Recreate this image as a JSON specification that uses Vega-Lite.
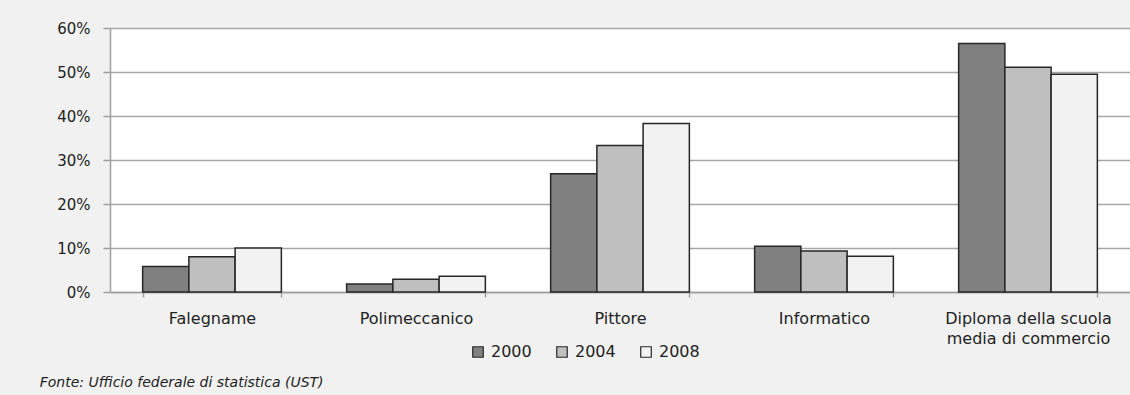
{
  "$schema": "https://vega.github.io/schema/vega-lite/v6.json",
  "width": 1020,
  "height": 264,
  "autosize": {"type": "none"},
  "padding": {"left": 110, "top": 28, "right": 0, "bottom": 103},
  "background": "#f1f1f1",
  "view": {"fill": "white", "stroke": null},
  "config": {"font": "DejaVu Sans"},
  "title": {
    "text": "Fonte: Ufficio federale di statistica (UST)",
    "orient": "bottom",
    "anchor": "start",
    "fontSize": 14,
    "fontStyle": "italic",
    "fontWeight": "normal",
    "color": "#222222",
    "dx": -17,
    "offset": 16
  },
  "data": {
    "values": [
      {"professione": "Falegname", "anno": "2000", "quota": 0.058},
      {"professione": "Falegname", "anno": "2004", "quota": 0.08},
      {"professione": "Falegname", "anno": "2008", "quota": 0.10},
      {"professione": "Polimeccanico", "anno": "2000", "quota": 0.018},
      {"professione": "Polimeccanico", "anno": "2004", "quota": 0.029},
      {"professione": "Polimeccanico", "anno": "2008", "quota": 0.036},
      {"professione": "Pittore", "anno": "2000", "quota": 0.269},
      {"professione": "Pittore", "anno": "2004", "quota": 0.333},
      {"professione": "Pittore", "anno": "2008", "quota": 0.383},
      {"professione": "Informatico", "anno": "2000", "quota": 0.104},
      {"professione": "Informatico", "anno": "2004", "quota": 0.093},
      {"professione": "Informatico", "anno": "2008", "quota": 0.081},
      {"professione": "Diploma della scuola media di commercio", "anno": "2000", "quota": 0.565},
      {"professione": "Diploma della scuola media di commercio", "anno": "2004", "quota": 0.511},
      {"professione": "Diploma della scuola media di commercio", "anno": "2008", "quota": 0.495}
    ]
  },
  "mark": {"type": "bar", "stroke": "#262626", "strokeWidth": 1.5},
  "encoding": {
    "x": {
      "field": "professione",
      "type": "nominal",
      "sort": ["Falegname", "Polimeccanico", "Pittore", "Informatico", "Diploma della scuola media di commercio"],
      "scale": {"paddingInner": 0.32, "paddingOuter": 0.16},
      "axis": {
        "title": null,
        "labelAngle": 0,
        "tickBand": "extent",
        "tickSize": 5,
        "tickColor": "#a0a0a0",
        "tickWidth": 1.5,
        "domainColor": "#a0a0a0",
        "domainWidth": 1.5,
        "labelFontSize": 16,
        "labelPadding": 13,
        "labelLineHeight": 20,
        "labelColor": "#222222",
        "labelExpr": "datum.value == 'Diploma della scuola media di commercio' ? ['Diploma della scuola', 'media di commercio'] : datum.value",
        "grid": false
      }
    },
    "xOffset": {
      "field": "anno",
      "type": "nominal",
      "scale": {"paddingInner": 0, "paddingOuter": 0}
    },
    "y": {
      "field": "quota",
      "type": "quantitative",
      "scale": {"domain": [0, 0.6]},
      "axis": {
        "title": null,
        "values": [0, 0.1, 0.2, 0.3, 0.4, 0.5, 0.6],
        "format": ".0%",
        "tickSize": 7,
        "tickColor": "#a0a0a0",
        "tickWidth": 1.5,
        "domainColor": "#a0a0a0",
        "domainWidth": 1.5,
        "gridColor": "#a6a6a6",
        "gridWidth": 1.5,
        "labelFontSize": 15,
        "labelPadding": 13,
        "labelColor": "#222222"
      }
    },
    "color": {
      "field": "anno",
      "type": "nominal",
      "scale": {"domain": ["2000", "2004", "2008"], "range": ["#808080", "#bfbfbf", "#f2f2f2"]},
      "legend": {
        "title": null,
        "orient": "none",
        "legendX": 360,
        "legendY": 316,
        "direction": "horizontal",
        "symbolType": "square",
        "symbolSize": 110,
        "symbolStrokeColor": "#262626",
        "symbolStrokeWidth": 1.2,
        "labelFontSize": 16,
        "labelColor": "#222222",
        "labelOffset": 5,
        "columnPadding": 22
      }
    }
  }
}
